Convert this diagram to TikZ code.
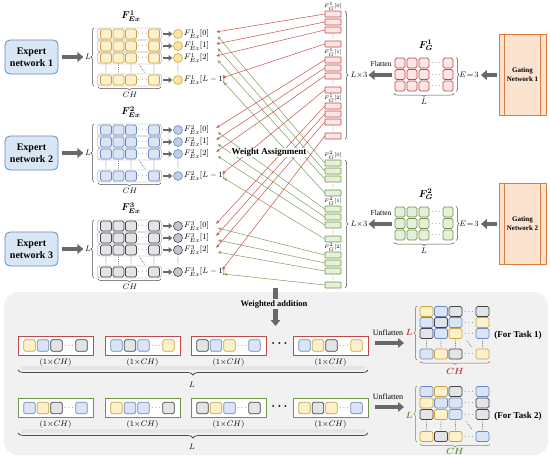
\documentclass[tikz,border=0pt]{standalone}
\usepackage{fontspec}
\setmainfont{Liberation Serif}
\usepackage{bm}
\usetikzlibrary{arrows.meta,decorations.pathreplacing,calc}
\definecolor{Fy}{HTML}{FDF1CC}
\definecolor{Dy}{HTML}{CDA43C}
\definecolor{Fb}{HTML}{DAE4F4}
\definecolor{Db}{HTML}{6A8CC4}
\definecolor{Fk}{HTML}{E2E4E8}
\definecolor{Dk}{HTML}{454545}
\definecolor{Fr}{HTML}{FDE6E6}
\definecolor{Dr}{HTML}{C0494A}
\definecolor{Fg}{HTML}{E4F0DA}
\definecolor{Dg}{HTML}{6F9548}
\definecolor{Cy}{HTML}{FCE3A0}
\definecolor{Cb}{HTML}{BDCDEA}
\definecolor{Ck}{HTML}{C3C6CE}
\definecolor{expF}{HTML}{D9E7F5}
\definecolor{expD}{HTML}{5A8AC6}
\definecolor{gatF}{HTML}{FBE3D0}
\definecolor{gatD}{HTML}{DF7B3C}
\definecolor{lnR}{HTML}{D05A5A}
\definecolor{lnG}{HTML}{86A665}
\definecolor{arr}{HTML}{686868}
\definecolor{panel}{HTML}{F1F1F1}
\tikzset{
 fs/.style={font=\fontsize{#1}{#1}\selectfont},
 bfs/.style={font=\fontsize{#1}{#1}\selectfont\bfseries},
 cellb/.style={rounded corners=1.6pt, line width=0.6pt, inner sep=0pt, minimum width=11pt, minimum height=10pt},
 tcell/.style={cellb, minimum width=13pt, minimum height=10pt},
 bcell/.style={cellb, minimum width=11.5pt, minimum height=11.5pt},
 rowbox/.style={draw=black!45, line width=0.4pt, rounded corners=3pt},
 dotsn/.style={inner sep=0pt, font=\fontsize{7}{7}\selectfont},
 circ/.style={circle, inner sep=0pt, minimum size=9pt, line width=0.6pt},
 exlab/.style={inner sep=0pt, anchor=west, font=\fontsize{8}{8}\selectfont},
 brc/.style={decorate, decoration={brace, amplitude=3pt}, line width=0.5pt, draw=black!70},
 brcb/.style={decorate, decoration={brace, amplitude=5pt}, line width=0.8pt, draw=black!70},
 dotline/.style={draw=black!60, line width=0.9pt, line cap=round, dash pattern=on 0pt off 1.8pt},
 smallarr/.style={draw=arr, line width=2.2pt, -{Triangle[length=3.5pt,width=5.5pt]}},
 bigarr/.style={draw=arr, line width=4pt, -{Triangle[length=6pt,width=9.5pt]}},
 redln/.style={draw=lnR, line width=0.55pt, -{Latex[length=3.5pt,width=3pt]}},
 grnln/.style={draw=lnG, line width=0.55pt, -{Latex[length=3.5pt,width=3pt]}},
 vrect/.style={rounded corners=0.5pt, line width=0.6pt, inner sep=0pt, minimum width=16pt, minimum height=6pt},
 vbox/.style={line width=0.8pt, fill=white, inner sep=0pt, minimum width=75pt, minimum height=19pt},
 glab/.style={inner sep=0pt, font=\fontsize{5}{5}\selectfont},
 expbox/.style={draw=expD, fill=expF, line width=0.8pt, rounded corners=5pt, minimum width=53pt, minimum height=34pt, align=center, inner sep=1pt, font=\fontsize{10}{12}\selectfont\bfseries},
 gatebox/.style={draw=gatD, fill=gatF, line width=0.8pt, minimum width=47pt, minimum height=81pt, align=center, inner sep=1pt, font=\fontsize{7}{9}\selectfont\bfseries},
}
% expert matrix: #1 y0, #2 colour letter, #3 index
\newcommand\myexpmat[3]{%
  \node[fs=10, inner sep=1pt] (ft#3) at (131,#1-18) {$\bm{F}^{\bm{#3}}_{\bm{Ex}}$};
  \foreach \r/\yy/\lab/\tx in {0/0/0/216,1/12/1/216,2/24/2/216,3/46/L-1/222}{
    \draw[rowbox] (97.5,#1+\yy-6) rectangle (161.5,#1+\yy+6);
    \foreach \cc/\xx in {0/106,1/118.5,2/131,3/154}{
      \node[cellb, draw=D#2, fill=F#2] (e#3r\r c\cc) at (\xx,#1+\yy) {};
    }
    \node[dotsn] at (142.5,#1+\yy) {$\cdots$};
    \node[circ, draw=D#2, fill=C#2] (ci#3r\r) at (178,#1+\yy) {};
    \draw[smallarr, shorten <=3.5pt, shorten >=1pt] (e#3r\r c3) -- (ci#3r\r);
    \node[exlab] (la#3r\r) at (184,#1+\yy) {$F^{#3}_{Ex}[\lab]$};
    \coordinate (tr#3r\r) at (\tx,#1+\yy-2);
    \coordinate (tg#3r\r) at (\tx+1.5,#1+\yy+2);
  }
  \foreach \xx in {106,118.5,131,154,178}{\draw[dotline] (\xx,#1+30) -- (\xx,#1+40);}
  \draw[dotline] (139.5,#1+31) -- (145.5,#1+39);
  \draw[brc] (94,#1+52) -- (94,#1-6);
  \node[fs=8, inner sep=1pt] (Ll#3) at (88,#1+23) {$L$};
  \draw[brc] (161,#1+53) -- (98,#1+53);
  \node[fs=8] (ch#3) at (130,#1+61) {$CH$};
  \node[expbox] (ex#3) at (31.5,#1+23) {Expert\\network #3};
  \draw[bigarr, shorten <=4pt, shorten >=0.5pt] (ex#3) -- (Ll#3);
}
% gating part: #1 dy, #2 colour letter, #3 index
\newcommand\mygate[3]{%
  \node[gatebox] (ga#3) at (522.5,#1+75) {Gating\\Network #3};
  \draw[draw=gatD, line width=0.6pt] ($(ga#3.north west)+(6,0)$) -- ($(ga#3.south west)+(6,0)$);
  \draw[draw=gatD, line width=0.6pt] ($(ga#3.north east)+(-6,0)$) -- ($(ga#3.south east)+(-6,0)$);
  \node[fs=10, inner sep=1pt] (fg#3) at (426,#1+45.5) {$\bm{F}^{\bm{#3}}_{\bm{G}}$};
  \foreach \r/\yy in {0/63,1/74.5,2/86}{
    \foreach \cc/\xx in {0/400,1/412,2/424,3/448}{
      \node[cellb, minimum width=10pt, draw=D#2, fill=F#2] (g#3r\r c\cc) at (\xx,#1+\yy) {};
    }
    \node[dotsn] at (436,#1+\yy) {$\cdots$};
  }
  \draw[brc] (456,#1+57.5) -- (456,#1+91.5);
  \node[fs=8, inner sep=1pt] (E#3) at (469,#1+75) {$E\!=\!3$};
  \draw[brc] (454,#1+93.5) -- (394,#1+93.5);
  \node[fs=8] (gl#3) at (424,#1+102) {$L$};
  \draw[bigarr, shorten <=2pt, shorten >=1pt] (ga#3) -- (E#3);
  \foreach \gg in {0,1,2}{
    \node[glab] (vl#3g\gg) at (333,#1+6+46*\gg) {$F^{#3}_{G}[\gg]$};
    \foreach \i/\yy in {0/14,1/22,2/30,3/44}{
      \node[vrect, draw=D#2, fill=F#2] (v#3g\gg i\i) at (333,#1+\yy+46*\gg) {};
    }
    \draw[dotline, line width=0.6pt, dash pattern=on 0pt off 1.3pt] (333,#1+35+46*\gg) -- (333,#1+39.5+46*\gg);
  }
  \draw[brc] (345,#1+11) -- (345,#1+139);
  \node[fs=8, inner sep=1pt] (Lx#3) at (359,#1+75) {$L{\times}3$};
  \coordinate (fs#3) at (392,#1+75);
  \draw[bigarr] (fs#3) -- (Lx#3);
  \node[fs=7.5] (flt#3) at (381,#1+64) {Flatten};
}
% flattened vector: #1 name, #2 X, #3 Y, #4 border, #5-#8 colours
\newcommand\myvec[8]{%
  \node[vbox, draw=#4] (#1) at (#2+37.5,#3) {};
  \node[bcell, draw=D#5, fill=F#5] (#1a) at (#2+11.5,#3) {};
  \node[bcell, draw=D#6, fill=F#6] (#1b) at (#2+25,#3) {};
  \node[bcell, draw=D#7, fill=F#7] (#1c) at (#2+38.5,#3) {};
  \node[dotsn] (#1d) at (#2+51,#3) {$\cdots$};
  \node[bcell, draw=D#8, fill=F#8] (#1e) at (#2+63.5,#3) {};
  \node[fs=8] (#1l) at (#2+37.5,#3+16.5) {$(1{\times}CH)$};
}
% task matrix row: #1 name, #2 y, #3-#6 colours
\newcommand\mytrow[6]{%
  \node[tcell, draw=D#3, fill=F#3] (#1a) at (426.5,#2) {};
  \node[tcell, draw=D#4, fill=F#4] (#1b) at (441,#2) {};
  \node[tcell, draw=D#5, fill=F#5] (#1c) at (455.5,#2) {};
  \node[dotsn] (#1d) at (469,#2) {$\cdots$};
  \node[tcell, draw=D#6, fill=F#6] (#1e) at (482.5,#2) {};
}
\begin{document}
\begin{tikzpicture}[x=1pt,y=-1pt]
\useasboundingbox (0,0) rectangle (550,458);
\fill[panel, rounded corners=14pt] (4,292) rectangle (548,455);

\myexpmat{34}{y}{1}
\myexpmat{130}{b}{2}
\myexpmat{226}{k}{3}

\mygate{0}{r}{1}
\mygate{149}{g}{2}

\foreach \gg in {0,1,2}{
  \pgfmathtruncatemacro\ee{\gg+1}
  \foreach \i in {0,1,2,3}{
    \draw[redln] (v1g\gg i\i.west) -- (tr\ee r\i);
    \draw[grnln] (v2g\gg i\i.west) -- (tg\ee r\i);
  }
}
\node[bfs=9, fill=white, inner sep=0.3pt] (wass) at (269,152.5) {Weight Assignment};

% weighted addition
\node[bfs=8.5, inner sep=1pt] (wa) at (274,304) {Weighted addition};
\coordinate (wtop) at (275.5,288);
\coordinate (wbot) at (275.5,326);
\draw[draw=arr, line width=4.5pt] (wtop) -- (wtop |- wa.north);
\draw[bigarr, line width=4.5pt] (wbot |- wa.south) -- (wbot);

% task 1 row
\foreach \k/\X/\pa/\pb/\pc/\pd in {1/18/y/b/k/k,2/105/b/k/b/y,3/191/k/b/y/b,4/293/b/y/k/y}{
  \myvec{ra\k}{\X}{345.5}{Dr}{\pa}{\pb}{\pc}{\pd}
}
\node[fs=13] (dd1) at (279.5,344) {$\bm{\cdots}$};
\fill[black!10] (21,366) rectangle (365,370);
\draw[brcb] (368,370) -- (18,370);
\node[fs=8] (bl1) at (192,385) {$L$};

% task 2 row
\foreach \k/\X/\pa/\pb/\pc/\pd in {1/18/b/y/k/b,2/105/y/b/b/k,3/191/k/y/b/k,4/293/y/k/y/b}{
  \myvec{rb\k}{\X}{408}{Dg}{\pa}{\pb}{\pc}{\pd}
}
\node[fs=13] (dd2) at (279.5,406.5) {$\bm{\cdots}$};
\fill[black!10] (21,429) rectangle (365,433);
\draw[brcb] (368,433) -- (18,433);
\node[fs=8] (bl2) at (192,447) {$L$};

% unflatten arrows
\node[fs=8] (uf1) at (388,333) {Unflatten};
\coordinate (u1s) at (375,343);
\coordinate (u1e) at (404,343);
\draw[bigarr] (u1s) -- (u1e);
\node[fs=8] (uf2) at (388,397) {Unflatten};
\coordinate (u2s) at (375,407);
\coordinate (u2e) at (404,407);
\draw[bigarr] (u2s) -- (u2e);

% task 1 matrix
\mytrow{ta0}{311.5}{y}{b}{k}{k}
\mytrow{ta1}{322.5}{b}{k}{b}{y}
\mytrow{ta2}{333.5}{k}{b}{y}{b}
\mytrow{ta3}{354}{b}{y}{k}{y}
\foreach \xx in {426.5,441,455.5,482.5}{\draw[dotline] (\xx,340) -- (\xx,348);}
\draw[dotline] (466,340) -- (472,347);
\draw[brc, draw=Dr] (417,360) -- (417,306);
\node[fs=9, text=Dr] (tl1) at (409,332) {$\bm{L}$};
\draw[brc, draw=Dr] (490,361.5) -- (420,361.5);
\node[fs=9, text=Dr] (tc1) at (455,371) {$\bm{CH}$};
\node[bfs=9] (task1) at (518,335) {(For Task 1)};

% task 2 matrix
\mytrow{tb0}{391.5}{b}{y}{k}{b}
\mytrow{tb1}{403}{y}{b}{b}{k}
\mytrow{tb2}{414.5}{k}{y}{b}{k}
\mytrow{tb3}{436.5}{y}{k}{y}{b}
\foreach \xx in {426.5,441,455.5,482.5}{\draw[dotline] (\xx,421) -- (\xx,430);}
\draw[dotline] (466,421.5) -- (472,429);
\draw[brc, draw=Dg] (417,442) -- (417,386);
\node[fs=9, text=Dg] (tl2) at (409,415) {$\bm{L}$};
\draw[brc, draw=Dg] (490,444) -- (420,444);
\node[fs=9, text=Dg] (tc2) at (455,451.5) {$\bm{CH}$};
\node[bfs=9] (task2) at (518,416) {(For Task 2)};
\end{tikzpicture}
\end{document}
